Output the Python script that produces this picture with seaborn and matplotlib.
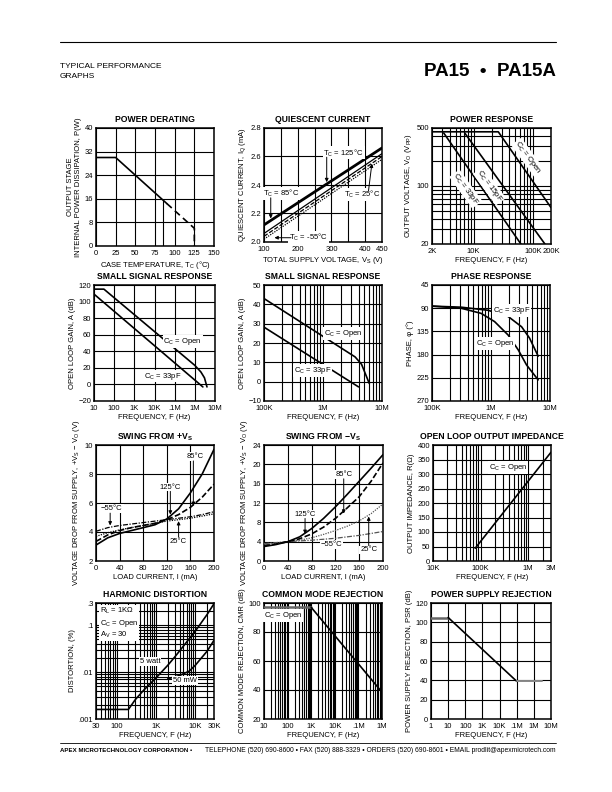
import numpy as np
import seaborn as sns
import matplotlib.pyplot as plt
from matplotlib.lines import Line2D
from matplotlib.ticker import FixedLocator, FixedFormatter, NullFormatter, LogLocator

# ---- data ----
# Power derating
derate_temp = [0, 25, 90]
derate_power = [30, 30, 14.4]
derate_temp_ext = [90, 125, 125]
derate_power_ext = [14.4, 6, 0]
derate_mark_temp = [85, 85]
derate_mark_power = [0, 15.6]

# Quiescent current
supply_v = [100, 450]
iq_thick = [2.12, 2.66]
iq_solid = [2.06, 2.62]
iq_dashed = [2.04, 2.60]
iq_dotted = [2.02, 2.58]

# Power response
pr_33_freq = [3150, 62400]
pr_33_vout = [435, 20]
pr_15_freq = [7100, 158000]
pr_15_vout = [435, 20]
pr_open_freq = [2000, 26000, 200000]
pr_open_vout = [450, 450, 55]

# Small signal response, 10Hz - 10MHz
ss1_open_freq = [10, 31, 1e6, 2e6, 3e6, 4e6]
ss1_open_gain = [115, 115, 23, 15, 8, -3]
ss1_33_freq = [10, 2.5e6]
ss1_33_gain = [109, -3]

# Small signal response, 100kHz - 10MHz
ss2_open_freq = [1e5, 3.5e6, 4.5e6, 6.1e6]
ss2_open_gain = [43, 12.8, 9, -1]
ss2_33_freq = [1e5, 4e6]
ss2_33_gain = [28.2, -2.7]

# Phase response
ph_33_freq = [1e5, 3.1e5, 8.9e5, 1.95e6, 3.3e6, 4.5e6, 6.3e6]
ph_33_deg = [86, 88, 94, 106, 126, 148, 183]
ph_open_freq = [1e5, 3.1e5, 6.8e5, 1.15e6, 1.95e6, 2.9e6, 4e6, 6.3e6]
ph_open_deg = [86, 90, 100, 116, 142, 171, 200, 229]

# Swing from +Vs
load_ma = [0, 20, 40, 60, 80, 100, 120, 140, 160, 180, 200]
pos_125 = [3.1, 3.6, 3.9, 4.1, 4.3, 4.5, 4.9, 5.6, 6.7, 8.0, 9.7]
pos_85 = [3.35, 3.8, 4.1, 4.3, 4.45, 4.6, 4.85, 5.2, 5.7, 6.4, 7.3]
pos_25 = [3.7, 3.95, 4.15, 4.3, 4.45, 4.6, 4.75, 4.85, 4.95, 5.1, 5.25]
pos_m55 = [4.05, 4.3, 4.45, 4.55, 4.65, 4.75, 4.85, 4.95, 5.05, 5.2, 5.4]

# Swing from -Vs
neg_125 = [3.0, 3.4, 4.0, 5.0, 6.7, 8.8, 11.2, 13.8, 16.5, 19.2, 22.0]
neg_85 = [3.2, 3.5, 4.0, 4.6, 5.6, 7.0, 8.8, 11.0, 13.3, 16.5, 20.3]
neg_25 = [3.4, 3.7, 4.0, 4.3, 4.8, 5.5, 6.3, 7.2, 8.3, 9.8, 11.8]
neg_m55 = [3.6, 3.8, 4.0, 4.15, 4.3, 4.5, 4.7, 5.0, 5.3, 5.7, 6.1]

# Open loop output impedance
imp_freq = [77000, 3e6]
imp_ohm = [44, 375]

# Harmonic distortion
hd_5w_freq = [30, 200, 300, 500, 1000, 2000, 3000, 5000, 10000, 20000, 30000]
hd_5w_pct = [0.0016, 0.0016, 0.0026, 0.0042, 0.0075, 0.014, 0.021, 0.036, 0.075, 0.17, 0.29]
hd_50mw_freq = [2000, 4000, 7000, 10000, 15000, 20000, 30000]
hd_50mw_pct = [0.0072, 0.0085, 0.0105, 0.014, 0.021, 0.028, 0.048]

# Common mode rejection
cmr_flat_freq = [10, 1000]
cmr_flat_db = [97, 97]
cmr_freq = [1000, 1e6]
cmr_db = [97, 38.5]

# Power supply rejection
psr_lo_freq = [1, 10]
psr_lo_db = [105, 105]
psr_freq = [10, 1e5]
psr_db = [105, 39]
psr_hi_freq = [1e5, 2.9e6]
psr_hi_db = [39, 39]

# ---- style ----
sns.set_theme(style="white")
plt.rcParams['font.family'] = ['Liberation Sans', 'DejaVu Sans']
plt.rcParams['mathtext.default'] = 'regular'
plt.rcParams['axes.edgecolor'] = 'black'
plt.rcParams['axes.linewidth'] = 1.1
plt.rcParams['text.color'] = 'black'
plt.rcParams['axes.labelcolor'] = 'black'
plt.rcParams['xtick.color'] = 'black'
plt.rcParams['ytick.color'] = 'black'

W, H = 612, 792
fig = plt.figure(figsize=(W / 100, H / 100), dpi=100)
fig.patch.set_facecolor('white')

FS = 5.5


def box(l, t, r, b):
    return [l / W, 1 - b / H, (r - l) / W, (b - t) / H]


def make_ax(rect, title, xlabel, ylabel):
    ax = fig.add_axes(box(*rect))
    ax.set_title(title, fontsize=6.2, fontweight='bold', pad=4)
    ax.set_xlabel(xlabel, fontsize=FS, labelpad=1)
    ax.set_ylabel(ylabel, fontsize=FS, labelpad=2)
    ax.tick_params(which='both', length=0, labelsize=FS)
    ax.tick_params(axis='x', pad=3.2)
    ax.tick_params(axis='y', pad=2)
    return ax


def set_axis(axis, lo, hi, major, labels, log=False, minor=None):
    if axis == 'x':
        ax_obj, setlim, setscale = CUR.xaxis, CUR.set_xlim, CUR.set_xscale
    else:
        ax_obj, setlim, setscale = CUR.yaxis, CUR.set_ylim, CUR.set_yscale
    if log:
        setscale('log')
    setlim(lo, hi)
    ax_obj.set_major_locator(FixedLocator(major))
    ax_obj.set_major_formatter(FixedFormatter(labels))
    if minor == 'log':
        ax_obj.set_minor_locator(LogLocator(base=10, subs=np.arange(2, 10), numticks=60))
    elif minor is not None:
        ax_obj.set_minor_locator(FixedLocator(minor))
    else:
        ax_obj.set_minor_locator(FixedLocator([]))
    ax_obj.set_minor_formatter(NullFormatter())


def grid(ax, xminor=True, yminor=True):
    ax.set_axisbelow(True)
    ax.xaxis.grid(True, which='major', color='black', lw=0.8)
    ax.yaxis.grid(True, which='major', color='black', lw=0.8)
    if xminor:
        ax.xaxis.grid(True, which='minor', color='black', lw=0.8)
    if yminor:
        ax.yaxis.grid(True, which='minor', color='black', lw=0.8)


def curve(ax, x, y, color='black', lw=1.2, ls='-'):
    sns.lineplot(x=x, y=y, ax=ax, color=color, lw=lw, linestyle=ls,
                 estimator=None, sort=False, zorder=3)


def label(ax, txt, xy, rot=0, tip=None, tail=None, ha='center', va='center'):
    ax.text(xy[0], xy[1], txt, fontsize=FS, ha=ha, va=va, rotation=rot,
            rotation_mode='anchor', zorder=5,
            bbox=dict(fc='white', ec='none', pad=0.6))
    if tip is not None:
        ax.annotate('', xy=tip, xytext=tail, zorder=5,
                    arrowprops=dict(arrowstyle='-|>', color='black', lw=0.7,
                                    mutation_scale=5, shrinkA=0, shrinkB=0))


DASH = (0, (3.5, 1.5))
DOT = (0, (1, 1))
DASHDOT = (0, (4, 1.2, 1, 1.2))

# ---- POWER DERATING ----
CUR = ax = make_ax((96, 128, 214, 246), 'POWER DERATING', 'CASE TEMPERATURE, T$_C$ (°C)',
                   'OUTPUT STAGE\nINTERNAL POWER DISSIPATION, P(W)')
set_axis('x', 0, 150, [0, 25, 50, 75, 100, 125, 150], ['0', '25', '50', '75', '100', '125', '150'])
set_axis('y', 0, 40, [0, 8, 16, 24, 32, 40], ['0', '8', '16', '24', '32', '40'])
grid(ax)
curve(ax, derate_temp, derate_power)
curve(ax, derate_temp_ext, derate_power_ext, ls=(0, (4, 2.5)))
curve(ax, derate_mark_temp, derate_mark_power, lw=0.8)

# ---- QUIESCENT CURRENT ----
CUR = ax = make_ax((264, 128, 382, 242), 'QUIESCENT CURRENT', 'TOTAL SUPPLY VOLTAGE, V$_S$ (V)',
                   'QUIESCENT CURRENT, I$_Q$ (mA)')
set_axis('x', 100, 450, [100, 200, 300, 400, 450], ['100', '200', '300', '400', '450'],
         minor=[150, 250, 350])
set_axis('y', 2.0, 2.8, [2.0, 2.2, 2.4, 2.6, 2.8], ['2.0', '2.2', '2.4', '2.6', '2.8'],
         minor=[])
grid(ax)
curve(ax, supply_v, iq_thick, lw=2.0)
curve(ax, supply_v, iq_solid, lw=0.9)
curve(ax, supply_v, iq_dashed, lw=0.9, ls=DASH)
curve(ax, supply_v, iq_dotted, lw=0.9, ls=DOT)
label(ax, 'T$_C$ = 125°C', (336, 2.625), tip=(286, 2.42), tail=(286, 2.595))
label(ax, 'T$_C$ = 85°C', (150, 2.34), tip=(120, 2.165), tail=(120, 2.31))
label(ax, 'T$_C$ = 25°C', (392, 2.335), tip=(420, 2.55), tail=(410, 2.36))
label(ax, 'T$_C$ = -55°C', (232, 2.035), tip=(131, 2.03), tail=(180, 2.03))

# ---- POWER RESPONSE ----
CUR = ax = make_ax((432, 128, 551, 244), 'POWER RESPONSE', 'FREQUENCY, F (Hz)',
                   'OUTPUT VOLTAGE, V$_O$ (V$_{PP}$)')
set_axis('x', 2e3, 2e5, [2e3, 1e4, 1e5, 2e5], ['2K', '10K', '100K', '200K'], log=True, minor='log')
set_axis('y', 20, 500, [20, 100, 500], ['20', '100', '500'], log=True, minor='log')
grid(ax)
curve(ax, pr_33_freq, pr_33_vout)
curve(ax, pr_15_freq, pr_15_vout)
curve(ax, pr_open_freq, pr_open_vout)
label(ax, 'C$_C$ = 33pF', (7400, 92), rot=-54)
label(ax, 'C$_C$ = 15pF', (18500, 100), rot=-54)
label(ax, 'C$_C$ = Open', (82000, 220), rot=-54)

# ---- SMALL SIGNAL RESPONSE (wide) ----
CUR = ax = make_ax((94, 285, 215, 401), 'SMALL SIGNAL RESPONSE', 'FREQUENCY, F (Hz)',
                   'OPEN LOOP GAIN, A (dB)')
set_axis('x', 10, 1e7, [10, 100, 1e3, 1e4, 1e5, 1e6, 1e7],
         ['10', '100', '1K', '10K', '.1M', '1M', '10M'], log=True)
set_axis('y', -20, 120, list(range(-20, 121, 20)),
         ['\u221220', '0', '20', '40', '60', '80', '100', '120'])
grid(ax, xminor=False, yminor=False)
curve(ax, ss1_open_freq, ss1_open_gain)
curve(ax, ss1_33_freq, ss1_33_gain)
label(ax, 'C$_C$ = Open', (2.5e5, 52))
label(ax, 'C$_C$ = 33pF', (2.6e4, 10))

# ---- SMALL SIGNAL RESPONSE (zoomed) ----
CUR = ax = make_ax((264, 285, 382, 401), 'SMALL SIGNAL RESPONSE', 'FREQUENCY, F (Hz)',
                   'OPEN LOOP GAIN, A (dB)')
set_axis('x', 1e5, 1e7, [1e5, 1e6, 1e7], ['100K', '1M', '10M'], log=True, minor='log')
set_axis('y', -10, 50, list(range(-10, 51, 10)),
         ['\u221210', '0', '10', '20', '30', '40', '50'])
grid(ax, yminor=False)
curve(ax, ss2_open_freq, ss2_open_gain)
curve(ax, ss2_33_freq, ss2_33_gain)
label(ax, 'C$_C$ = Open', (2.2e6, 24.8))
label(ax, 'C$_C$ = 33pF', (6.6e5, 5.9))

# ---- PHASE RESPONSE ----
CUR = ax = make_ax((432, 285, 550, 401), 'PHASE RESPONSE', 'FREQUENCY, F (Hz)', 'PHASE, \u03c6 (°)')
set_axis('x', 1e5, 1e7, [1e5, 1e6, 1e7], ['100K', '1M', '10M'], log=True, minor='log')
set_axis('y', 270, 45, [45, 90, 135, 180, 225, 270], ['45', '90', '135', '180', '225', '270'])
grid(ax, yminor=False)
curve(ax, ph_33_freq, ph_33_deg)
curve(ax, ph_open_freq, ph_open_deg)
label(ax, 'C$_C$ = 33pF', (2.2e6, 95))
label(ax, 'C$_C$ = Open', (1.18e6, 158))

# ---- SWING FROM +VS ----
CUR = ax = make_ax((96, 445, 214, 561), 'SWING FROM +V$_S$', 'LOAD CURRENT, I (mA)',
                   'VOLTAGE DROP FROM SUPPLY, +V$_S$ \u2212 V$_O$ (V)')
set_axis('x', 0, 200, [0, 40, 80, 120, 160, 200], ['0', '40', '80', '120', '160', '200'])
set_axis('y', 2, 10, [2, 4, 6, 8, 10], ['2', '4', '6', '8', '10'])
grid(ax)
curve(ax, load_ma, pos_m55, lw=0.9, ls=DASHDOT)
curve(ax, load_ma, pos_25, lw=0.9, ls=DOT)
curve(ax, load_ma, pos_85, ls=DASH)
curve(ax, load_ma, pos_125)
label(ax, '85°C', (168, 9.2), tip=(165, 5.8), tail=(165, 8.9))
label(ax, '125°C', (126, 7.1), tip=(126, 5.2), tail=(126, 6.8))
label(ax, '\u221255°C', (27, 5.6), tip=(24, 4.45), tail=(24, 5.3))
label(ax, '25°C', (140, 3.35), tip=(140, 4.75), tail=(140, 3.65))

# ---- SWING FROM -VS ----
CUR = ax = make_ax((264, 445, 383, 561), 'SWING FROM \u2212V$_S$', 'LOAD CURRENT, I (mA)',
                   'VOLTAGE DROP FROM SUPPLY, +V$_S$ \u2212 V$_O$ (V)')
set_axis('x', 0, 200, [0, 40, 80, 120, 160, 200], ['0', '40', '80', '120', '160', '200'])
set_axis('y', 0, 24, [0, 4, 8, 12, 16, 20, 24], ['0', '4', '8', '12', '16', '20', '24'])
grid(ax)
curve(ax, load_ma, neg_m55, lw=0.9, ls=DASHDOT, color='#555555')
curve(ax, load_ma, neg_25, lw=0.9, ls=DOT, color='#555555')
curve(ax, load_ma, neg_85, ls=DASH)
curve(ax, load_ma, neg_125)
label(ax, '85°C', (134, 17.9), tip=(134, 9.8), tail=(134, 17.0))
label(ax, '125°C', (69, 9.7), tip=(69, 5.6), tail=(69, 8.8))
label(ax, '\u221255°C', (114, 3.4))
label(ax, '25°C', (176, 2.3), tip=(176, 9.2), tail=(176, 3.2))

# ---- OPEN LOOP OUTPUT IMPEDANCE ----
CUR = ax = make_ax((433, 445, 551, 561), 'OPEN LOOP OUTPUT IMPEDANCE', 'FREQUENCY, F (Hz)',
                   'OUTPUT IMPEDANCE, R(\u03a9)')
set_axis('x', 1e4, 3e6, [1e4, 1e5, 1e6, 3e6], ['10K', '100K', '1M', '3M'], log=True, minor='log')
set_axis('y', 0, 400, list(range(0, 401, 50)), [str(v) for v in range(0, 401, 50)])
grid(ax, yminor=False)
curve(ax, imp_freq, imp_ohm)
label(ax, 'C$_C$ = Open', (3.8e5, 322))

# ---- HARMONIC DISTORTION ----
CUR = ax = make_ax((96, 603, 214, 719), 'HARMONIC DISTORTION', 'FREQUENCY, F (Hz)', 'DISTORTION, (%)')
set_axis('x', 30, 3e4, [30, 100, 1e3, 1e4, 3e4], ['30', '100', '1K', '10K', '30K'],
         log=True, minor='log')
set_axis('y', 1e-3, 0.3, [1e-3, 1e-2, 0.1, 0.3], ['.001', '.01', '.1', '.3'], log=True, minor='log')
grid(ax)
curve(ax, hd_5w_freq, hd_5w_pct)
curve(ax, hd_50mw_freq, hd_50mw_pct)
label(ax, 'R$_L$ = 1K\u03a9\nC$_C$ = Open\nA$_V$ = 30', (37, 0.26), ha='left', va='top')
label(ax, '5 watt', (714, 0.0168))
label(ax, '50 mW', (5500, 0.0066))

# ---- COMMON MODE REJECTION ----
CUR = ax = make_ax((264, 603, 382, 719), 'COMMON MODE REJECTION', 'FREQUENCY, F (Hz)',
                   'COMMON MODE REJECTION, CMR (dB)')
set_axis('x', 10, 1e6, [10, 100, 1e3, 1e4, 1e5, 1e6], ['10', '100', '1K', '10K', '.1M', '1M'],
         log=True, minor='log')
set_axis('y', 20, 100, [20, 40, 60, 80, 100], ['20', '40', '60', '80', '100'])
grid(ax, yminor=False)
curve(ax, cmr_flat_freq, cmr_flat_db, color='#666666', lw=1.8)
curve(ax, cmr_freq, cmr_db)
label(ax, 'C$_C$ = Open', (66, 91.3))

# ---- POWER SUPPLY REJECTION ----
CUR = ax = make_ax((431, 603, 551, 719), 'POWER SUPPLY REJECTION', 'FREQUENCY, F (Hz)',
                   'POWER SUPPLY REJECTION, PSR (dB)')
set_axis('x', 1, 1e7, [1, 10, 100, 1e3, 1e4, 1e5, 1e6, 1e7],
         ['1', '10', '100', '1K', '10K', '.1M', '1M', '10M'], log=True)
set_axis('y', 0, 120, list(range(0, 121, 20)), [str(v) for v in range(0, 121, 20)])
grid(ax, xminor=False, yminor=False)
curve(ax, psr_lo_freq, psr_lo_db, color='#666666', lw=1.8)
curve(ax, psr_freq, psr_db)
curve(ax, psr_hi_freq, psr_hi_db, color='#888888', lw=1.4)

# ---- page header / footer ----
fig.add_artist(Line2D([60 / W, 556 / W], [1 - 42 / H, 1 - 42 / H], color='black', lw=0.8))
fig.text(60 / W, 1 - 67 / H, 'TYPICAL PERFORMANCE', fontsize=6, va='center')
fig.text(60 / W, 1 - 77 / H, 'GRAPHS', fontsize=6, va='center')
fig.text(556 / W, 1 - 72 / H, 'PA15  \u2022  PA15A', fontsize=13.5, fontweight='bold',
         ha='right', va='center')
fig.add_artist(Line2D([60 / W, 556 / W], [1 - 743 / H, 1 - 743 / H], color='black', lw=0.6))
fig.text(60 / W, 1 - 750 / H, 'APEX MICROTECHNOLOGY CORPORATION \u2022', fontsize=4.4,
         fontweight='bold', va='center')
fig.text(556 / W, 1 - 750 / H,
         'TELEPHONE (520) 690-8600 \u2022 FAX (520) 888-3329 \u2022 ORDERS (520) 690-8601 '
         '\u2022 EMAIL prodlit@apexmicrotech.com', fontsize=4.9, ha='right', va='center')

fig.savefig('out.png', dpi=100, facecolor='white')
